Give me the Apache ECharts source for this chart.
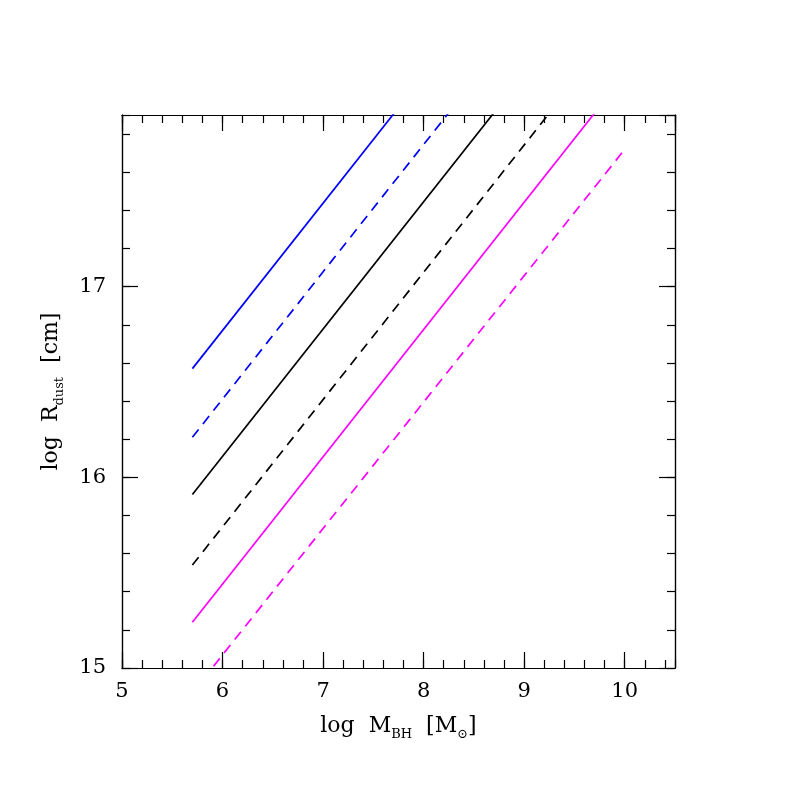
<!DOCTYPE html>
<html>
<head>
<meta charset="utf-8">
<script src="https://cdn.jsdelivr.net/npm/echarts@6/dist/echarts.min.js"></script>
<style>
html, body { margin: 0; padding: 0; background: #fff; }
#main { width: 789px; height: 789px; }
</style>
</head>
<body>
<div id="main"></div>
<script>
// log M_BH start / end of each relation
var xStart = 5.7;
var xEnd = 10.0;
// log R_dust at xStart and xEnd for each line
var blueSolid = [16.57, 19.44];
var blueDashed = [16.21, 19.08];
var blackSolid = [15.91, 18.78];
var blackDashed = [15.54, 18.41];
var magentaSolid = [15.24, 18.11];
var magentaDashed = [14.87, 17.72];

var xMin = 5, xMax = 10.5;
var yMin = 15, yMax = 17.9;

var font = 'DejaVu Serif';

function pts(arr) {
    return [[xStart, arr[0]], [xEnd, arr[1]]];
}

function line(name, arr, color, dashed) {
    return {
        name: name,
        type: 'line',
        data: pts(arr),
        symbol: 'none',
        clip: true,
        lineStyle: {
            color: color,
            width: 1.7,
            type: dashed ? [10, 7] : 'solid'
        },
        xAxisIndex: 0,
        yAxisIndex: 0,
        z: 3
    };
}

// axis helper: major ticks (long) or minor ticks (short)
function xAx(pos, step, len, labels) {
    return {
        type: 'value', position: pos, min: xMin, max: xMax, interval: step,
        axisLine: { show: true, onZero: false, lineStyle: { color: '#000', width: 1.2 } },
        axisTick: { show: true, inside: true, length: len, lineStyle: { color: '#000', width: 1.2 } },
        axisLabel: {
            show: labels, margin: 13, color: '#000', fontFamily: font, fontSize: 21,
            showMaxLabel: false,
            formatter: function (v) { return v % 1 === 0 ? String(v) : ''; }
        },
        splitLine: { show: false }
    };
}
function yAx(pos, step, len, labels) {
    return {
        type: 'value', position: pos, min: yMin, max: yMax, interval: step,
        axisLine: { show: true, onZero: false, lineStyle: { color: '#000', width: 1.2 } },
        axisTick: { show: true, inside: true, length: len, lineStyle: { color: '#000', width: 1.2 } },
        axisLabel: {
            show: labels, margin: 16, color: '#000', fontFamily: font, fontSize: 21,
            showMaxLabel: false,
            formatter: function (v) { return v % 1 === 0 ? String(v) : ''; }
        },
        splitLine: { show: false }
    };
}

var nameRich = {
    n: { fontFamily: font, fontSize: 22, color: '#000', lineHeight: 28, verticalAlign: 'top' },
    s: { fontFamily: font, fontSize: 13, color: '#000', lineHeight: 28, verticalAlign: 'top', padding: [13, 0, 0, 0] }
};

var chart = echarts.init(document.getElementById('main'), null, { renderer: 'canvas' });

var xMain = xAx('bottom', 1, 16, true);
xMain.name = '{n|log  M}{s|BH}{n|  [M}{s|⊙}{n|]}';
xMain.nameLocation = 'middle';
xMain.nameGap = 47;
xMain.nameTextStyle = { rich: nameRich };

var yMain = yAx('left', 1, 16, true);
yMain.name = '{n|log  R}{s|dust}{n|  [cm]}';
yMain.nameLocation = 'middle';
yMain.nameGap = 54;
yMain.nameTextStyle = { rich: nameRich };

var option = {
    backgroundColor: '#fff',
    animation: false,
    grid: { left: 122, top: 115, right: 114, bottom: 121, containLabel: false },
    xAxis: [
        xMain,
        xAx('bottom', 0.2, 8, false),
        xAx('top', 1, 16, false),
        xAx('top', 0.2, 8, false)
    ],
    yAxis: [
        yMain,
        yAx('left', 0.2, 8, false),
        yAx('right', 1, 16, false),
        yAx('right', 0.2, 8, false)
    ],
    series: [
        line('blue solid', blueSolid, '#0000ff', false),
        line('blue dashed', blueDashed, '#0000ff', true),
        line('black solid', blackSolid, '#000000', false),
        line('black dashed', blackDashed, '#000000', true),
        line('magenta solid', magentaSolid, '#ff00ff', false),
        line('magenta dashed', magentaDashed, '#ff00ff', true)
    ]
};
chart.setOption(option);
</script>
</body>
</html>
